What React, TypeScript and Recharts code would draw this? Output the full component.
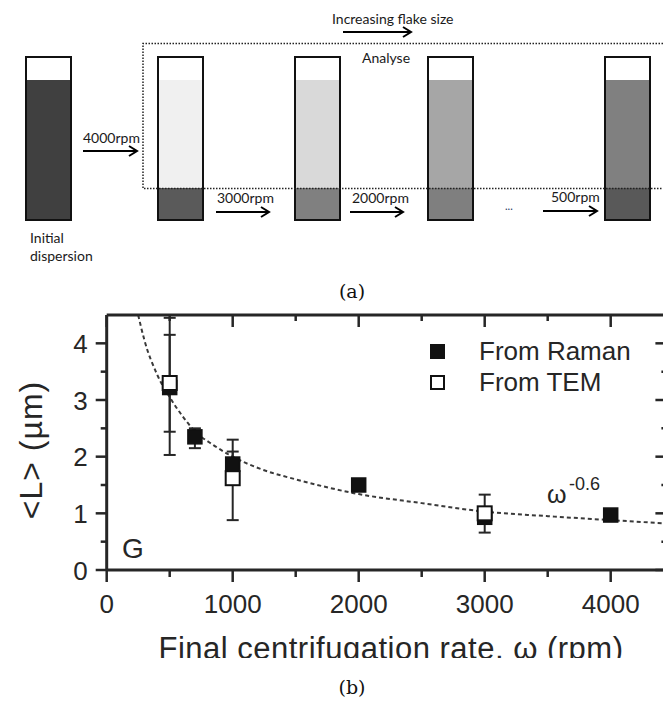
import { ComposedChart, Line, Scatter, ErrorBar, XAxis, YAxis, Legend, Label } from 'recharts';

// panel (b) data
const ramanRpm = [500, 700, 1000, 2000, 3000, 4000];
const ramanL = [3.22, 2.35, 1.87, 1.5, 0.93, 0.97];
const ramanErr = [[0.78, 0.93], [0.2, 0.15], [0.22, 0.22], [0.04, 0.04], [0.08, 0.08], [0.04, 0.04]];

const temRpm = [500, 1000, 3000];
const temL = [3.3, 1.62, 1.0];
const temErr = [[1.27, 1.15], [0.74, 0.68], [0.34, 0.33]];

// dashed w^-0.6 guide line
const fitRpm = [250, 300, 400, 500, 600, 700, 850, 1000, 1250, 1500, 2000, 2500, 3000, 3500, 4000, 4450];
const fitL = [4.5, 4.05, 3.45, 3.05, 2.72, 2.45, 2.2, 2.0, 1.76, 1.6, 1.34, 1.18, 1.03, 0.95, 0.88, 0.82];

const xTicks = [0, 500, 1000, 1500, 2000, 2500, 3000, 3500, 4000];
const yTicks = [0, 0.5, 1, 1.5, 2, 2.5, 3, 3.5, 4];

const seriesNames = ['From Raman', 'From TEM'];

// panel (a) tubes: fill of the supernatant and of the sediment
const tubeFills = ['#404040', '#f0f0f0', '#d9d9d9', '#a6a6a6', '#808080'];
const tubeSediment = ['#404040', '#5a5a5a', '#808080', '#7f7f7f', '#595959'];
const tubeX = [26, 158, 295, 428, 605];

const ramanData = ramanRpm.map((x, i) => ({ x, y: ramanL[i], err: ramanErr[i] }));
const temData = temRpm.map((x, i) => ({ x, y: temL[i], err: temErr[i] }));
const fitData = fitRpm.map((x, i) => ({ x, y: fitL[i] }));

const INK = '#262626';
const FONT = '"Liberation Sans", Arial, sans-serif';

const BottomTick = (props: any) => {
    const { x, y, payload } = props;
    const major = payload.value % 1000 === 0;
    return (
        <g>
            <line x1={x} y1={y} x2={x} y2={y + (major ? 12 : 7)} stroke={INK} strokeWidth={2.5} />
            {major && (
                <text x={x} y={y + 43} textAnchor="middle" fontSize={26} fontFamily={FONT} fill={INK}>
                    {payload.value}
                </text>
            )}
        </g>
    );
};

const TopTick = (props: any) => {
    const { x, y, payload } = props;
    const major = payload.value % 1000 === 0;
    return <line x1={x} y1={y} x2={x} y2={y + (major ? 12 : 6)} stroke={INK} strokeWidth={2.5} />;
};

const LeftTick = (props: any) => {
    const { x, y, payload } = props;
    const major = payload.value % 1 === 0;
    return (
        <g>
            <line x1={x - (major ? 11 : 6)} y1={y} x2={x} y2={y} stroke={INK} strokeWidth={2.5} />
            {major && (
                <text x={x - 19} y={y + 9.5} textAnchor="end" fontSize={26} fontFamily={FONT} fill={INK}>
                    {payload.value}
                </text>
            )}
        </g>
    );
};

const RightTick = (props: any) => {
    const { x, y, payload } = props;
    const major = payload.value % 1 === 0;
    return <line x1={x - (major ? 12 : 6)} y1={y} x2={x} y2={y} stroke={INK} strokeWidth={2.5} />;
};

const FilledSquare = (props: any) => (
    <rect x={props.cx - 7} y={props.cy - 7} width={14} height={14} fill="#111" stroke="#111" strokeWidth={1.5} />
);

const OpenSquare = (props: any) => (
    <rect x={props.cx - 7} y={props.cy - 7} width={14} height={14} fill="#fff" stroke="#111" strokeWidth={2} />
);

const LegendBox = () => (
    <div style={{ fontFamily: FONT, fontSize: 26, color: INK, textAlign: 'left' }}>
        {seriesNames.map((name, i) => (
            <div key={name} style={{ display: 'flex', alignItems: 'center', height: 31, lineHeight: '31px' }}>
                <span
                    style={{
                        display: 'inline-block',
                        width: 11,
                        height: 11,
                        marginLeft: 2,
                        marginRight: 34,
                        background: i === 0 ? '#111' : '#fff',
                        border: '2px solid #111',
                    }}
                />
                {name}
            </div>
        ))}
    </div>
);

const Arrow = ({ x1, x2, y }: { x1: number; x2: number; y: number }) => (
    <g stroke="#000" strokeWidth={2} fill="none">
        <line x1={x1} y1={y} x2={x2} y2={y} />
        <polyline points={`${x2 - 8},${y - 5} ${x2},${y} ${x2 - 8},${y + 5}`} />
    </g>
);

const Schematic = () => (
    <svg width={663} height={702} style={{ position: 'absolute', left: 0, top: 0, pointerEvents: 'none' }}>
        <g fontFamily="Lato, sans-serif" fontSize={14} fill="#1a1a1a">
            <text x={332} y={24}>Increasing flake size</text>
            <text x={362} y={63}>Analyse</text>
            <text x={83} y={143}>4000rpm</text>
            <text x={217} y={203}>3000rpm</text>
            <text x={352} y={203}>2000rpm</text>
            <text x={551} y={202}>500rpm</text>
            <text x={505} y={210} fontSize={11} fill="#1f3864">...</text>
            <text x={30} y={243}>Initial</text>
            <text x={30} y={261}>dispersion</text>
        </g>
        <Arrow x1={343} x2={411} y={32} />
        <Arrow x1={83} x2={137} y={151} />
        <Arrow x1={216} x2={269} y={212} />
        <Arrow x1={350} x2={403} y={212} />
        <Arrow x1={543} x2={597} y={211} />
        {tubeX.map((x, i) => (
            <g key={x}>
                <rect x={x} y={80} width={45} height={108} fill={tubeFills[i]} />
                <rect x={x} y={188} width={45} height={32} fill={tubeSediment[i]} />
                <rect x={x} y={57} width={45} height={163} fill="none" stroke="#111" strokeWidth={2} />
            </g>
        ))}
        <path d="M663 43.5 H143 V188.5 H663" fill="none" stroke="#222" strokeWidth={1.5} strokeDasharray="1.5 1.5" />
        <g fontFamily='"DejaVu Serif", serif' fontSize={19} fill="#111" textAnchor="middle">
            <text x={352} y={298}>(a)</text>
            <text x={352} y={694}>(b)</text>
        </g>
        <g fontFamily={FONT} fill={INK}>
            <text x={122} y={558} fontSize={28}>G</text>
            <text x={547} y={503} fontSize={25}>ω</text>
            <text x={569} y={490} fontSize={18}>-0.6</text>
        </g>
    </svg>
);

const App = () => {
    return (
        <div style={{ position: 'absolute', left: 0, top: 0, width: 663, height: 702, background: '#fff', overflow: 'hidden' }}>
            <div style={{ position: 'absolute', left: 0, top: 300, width: 663, height: 358, overflow: 'hidden' }}>
                <ComposedChart width={700} height={360} margin={{ top: 14, right: 31.6, bottom: 0, left: 46.7 }}>
                    <XAxis
                        type="number"
                        dataKey="x"
                        domain={[0, 4450]}
                        ticks={xTicks}
                        interval={0}
                        allowDataOverflow
                        height={90}
                        tickSize={0}
                        tickMargin={0}
                        tickLine={false}
                        tick={BottomTick}
                        axisLine={{ stroke: INK, strokeWidth: 3 }}
                    >
                        <Label
                            content={() => (
                                <text x={391} y={359} textAnchor="middle" fontSize={31} fontFamily={FONT} fill={INK} letterSpacing={0.5}>
                                    Final centrifugation rate, ω (rpm)
                                </text>
                            )}
                        />
                    </XAxis>
                    <XAxis
                        xAxisId="top"
                        orientation="top"
                        type="number"
                        dataKey="x"
                        domain={[0, 4450]}
                        ticks={xTicks}
                        interval={0}
                        allowDataOverflow
                        height={1}
                        tickSize={0}
                        tickMargin={0}
                        tickLine={false}
                        tick={TopTick}
                        axisLine={{ stroke: INK, strokeWidth: 3 }}
                    />
                    <YAxis
                        type="number"
                        domain={[0, 4.5]}
                        ticks={yTicks}
                        interval={0}
                        allowDataOverflow
                        width={60}
                        tickSize={0}
                        tickMargin={0}
                        tickLine={false}
                        tick={LeftTick}
                        axisLine={{ stroke: INK, strokeWidth: 3 }}
                    >
                        <Label
                            content={() => (
                                <text
                                    x={31}
                                    y={150}
                                    transform="rotate(-90 31 150)"
                                    textAnchor="middle"
                                    dominantBaseline="central"
                                    fontSize={32}
                                    fontFamily={FONT}
                                    fill={INK}
                                    letterSpacing={1}
                                >
                                    {'<L> (µm)'}
                                </text>
                            )}
                        />
                    </YAxis>
                    <YAxis
                        yAxisId="right"
                        orientation="right"
                        type="number"
                        domain={[0, 4.5]}
                        ticks={yTicks}
                        interval={0}
                        allowDataOverflow
                        width={1}
                        tickSize={0}
                        tickMargin={0}
                        tickLine={false}
                        tick={RightTick}
                        axisLine={{ stroke: INK, strokeWidth: 3 }}
                    />
                    <Legend
                        layout="horizontal"
                        verticalAlign="middle"
                        align="center"
                        wrapperStyle={{ top: 36, left: 428, width: 240 }}
                        content={LegendBox}
                    />
                    <Line
                        data={fitData}
                        dataKey="y"
                        type="monotone"
                        stroke="#3a3a3a"
                        strokeWidth={2}
                        strokeDasharray="4 3"
                        dot={false}
                        activeDot={false}
                        legendType="none"
                        isAnimationActive={false}
                    />
                    <Scatter name={seriesNames[0]} data={ramanData} dataKey="y" shape={FilledSquare} isAnimationActive={false}>
                        <ErrorBar dataKey="err" direction="y" width={6} stroke={INK} strokeWidth={2} isAnimationActive={false} />
                    </Scatter>
                    <Scatter name={seriesNames[1]} data={temData} dataKey="y" shape={OpenSquare} isAnimationActive={false}>
                        <ErrorBar dataKey="err" direction="y" width={6} stroke={INK} strokeWidth={2} isAnimationActive={false} />
                    </Scatter>
                </ComposedChart>
            </div>
            <Schematic />
        </div>
    );
};

export default App;
